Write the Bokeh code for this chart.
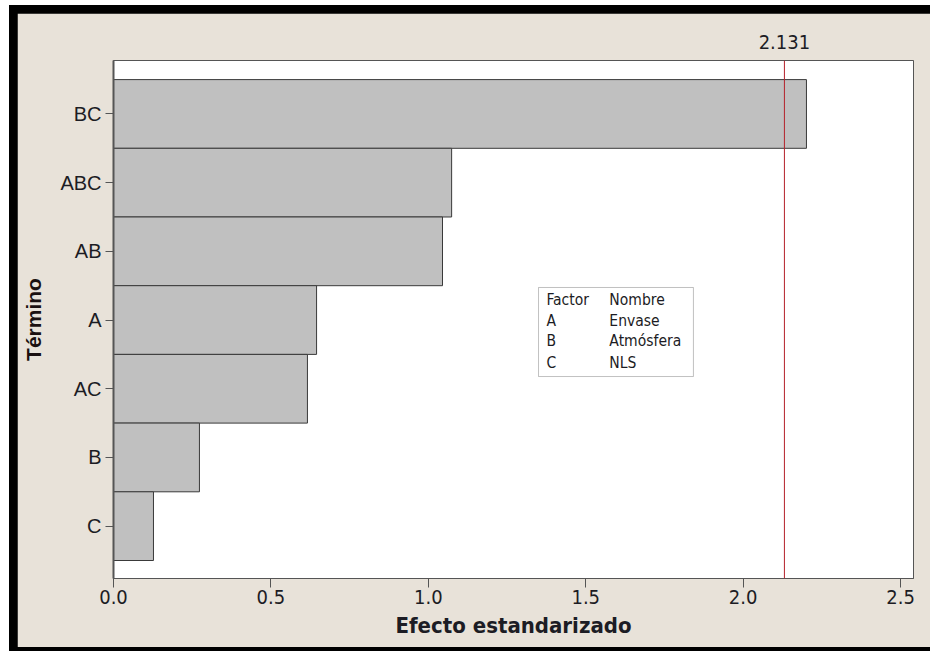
from bokeh.plotting import figure
from bokeh.models import (Column, Range1d, FixedTicker, LinearAxis, Span,
                          BoxAnnotation, Label, PrintfTickFormatter)
from bokeh.embed import file_html
from bokeh.resources import INLINE

# Pareto of standardized effects
terms = ["BC", "ABC", "AB", "A", "AC", "B", "C"]
effects = [2.201, 1.074, 1.045, 0.645, 0.616, 0.273, 0.127]
critical_value = 2.131
x_ticks = [0.0, 0.5, 1.0, 1.5, 2.0, 2.5]

# factor key shown inside the plot
key_header = ["Factor", "Nombre"]
factor_codes = ["A", "B", "C"]
factor_names = ["Envase", "Atmósfera", "NLS"]

BEIGE = "#e8e2d9"
TICK_FONT = "DejaVu Sans Condensed"
LABEL_FONT = "Liberation Sans"
INK = "#1c1c24"

n = len(terms)
ypos = [n - i for i in range(n)]

p = figure(width=913, height=634, output_backend="svg", toolbar_location=None,
           x_range=Range1d(0, 2.541), y_range=Range1d(0.238, n + 0.778),
           min_border_left=96, min_border_right=17, min_border_top=47,
           min_border_bottom=69, margin=(8, 0, 4, 8))
p.background_fill_color = "white"
p.border_fill_color = BEIGE
p.outline_line_color = "#555555"
p.outline_line_width = 1
p.xgrid.visible = False
p.ygrid.visible = False

p.hbar(y=ypos, right=effects, left=0, height=1.0, fill_color="#c0c0c0",
       line_color="#3a3a3a", line_width=1)

p.add_layout(Span(location=critical_value, dimension="height",
                  line_color="#b5202a", line_width=1))

# x axis
xa = p.xaxis[0]
xa.ticker = FixedTicker(ticks=x_ticks)
xa.formatter = PrintfTickFormatter(format="%.1f")
xa.axis_label = "Efecto estandarizado"
xa.axis_label_text_font = TICK_FONT
xa.axis_label_text_font_style = "bold"
xa.axis_label_text_font_size = "22px"
xa.axis_label_text_color = INK
xa.axis_label_standoff = 6
xa.major_label_text_font = TICK_FONT
xa.major_label_text_font_size = "20px"
xa.major_label_text_color = INK
xa.major_label_standoff = 2
xa.major_tick_in = 0
xa.major_tick_out = 9
xa.minor_tick_line_color = None
xa.axis_line_color = "#555555"
xa.major_tick_line_color = "#555555"

# y axis
ya = p.yaxis[0]
ya.ticker = FixedTicker(ticks=ypos)
ya.major_label_overrides = {y: t for y, t in zip(ypos, terms)}
ya.axis_label = "Término"
ya.axis_label_text_font = LABEL_FONT
ya.axis_label_text_font_style = "bold"
ya.axis_label_text_font_size = "21px"
ya.axis_label_text_color = "#1a1010"
ya.axis_label_standoff = 12
ya.major_label_text_font = LABEL_FONT
ya.major_label_text_font_size = "20px"
ya.major_label_text_color = INK
ya.major_label_standoff = 4
ya.major_tick_in = 0
ya.major_tick_out = 8
ya.minor_tick_line_color = None
ya.axis_line_color = "#555555"
ya.axis_line_width = 2
ya.major_tick_line_color = "#555555"

# critical value marked above the frame
top = LinearAxis(ticker=FixedTicker(ticks=[critical_value]),
                 major_label_overrides={critical_value: f"{critical_value:.3f}"},
                 axis_line_color=None, major_tick_line_color=None,
                 minor_tick_line_color=None, major_label_standoff=6,
                 major_label_text_font=TICK_FONT, major_label_text_font_size="20px",
                 major_label_text_color=INK)
p.add_layout(top, "above")

# factor key box
box = BoxAnnotation(left=1.350, right=1.842, bottom=3.178, top=4.474,
                    fill_color="white", fill_alpha=1.0, line_color="#333333",
                    line_width=1)
p.add_layout(box)
rows_y = [4.285, 3.98, 3.69, 3.38]
col1 = [key_header[0]] + factor_codes
col2 = [key_header[1]] + factor_names
for yy, a, b in zip(rows_y, col1, col2):
    for xx, t in ((1.375, a), (1.575, b)):
        p.add_layout(Label(x=xx, y=yy, text=t, text_font=TICK_FONT,
                           text_font_size="15.5px", text_color=INK,
                           text_baseline="middle", text_align="left"))

root = Column(children=[p], styles={"background-color": "black"},
              margin=(5, 0, 0, 9))

open("out.html", "w").write(file_html(root, INLINE))
